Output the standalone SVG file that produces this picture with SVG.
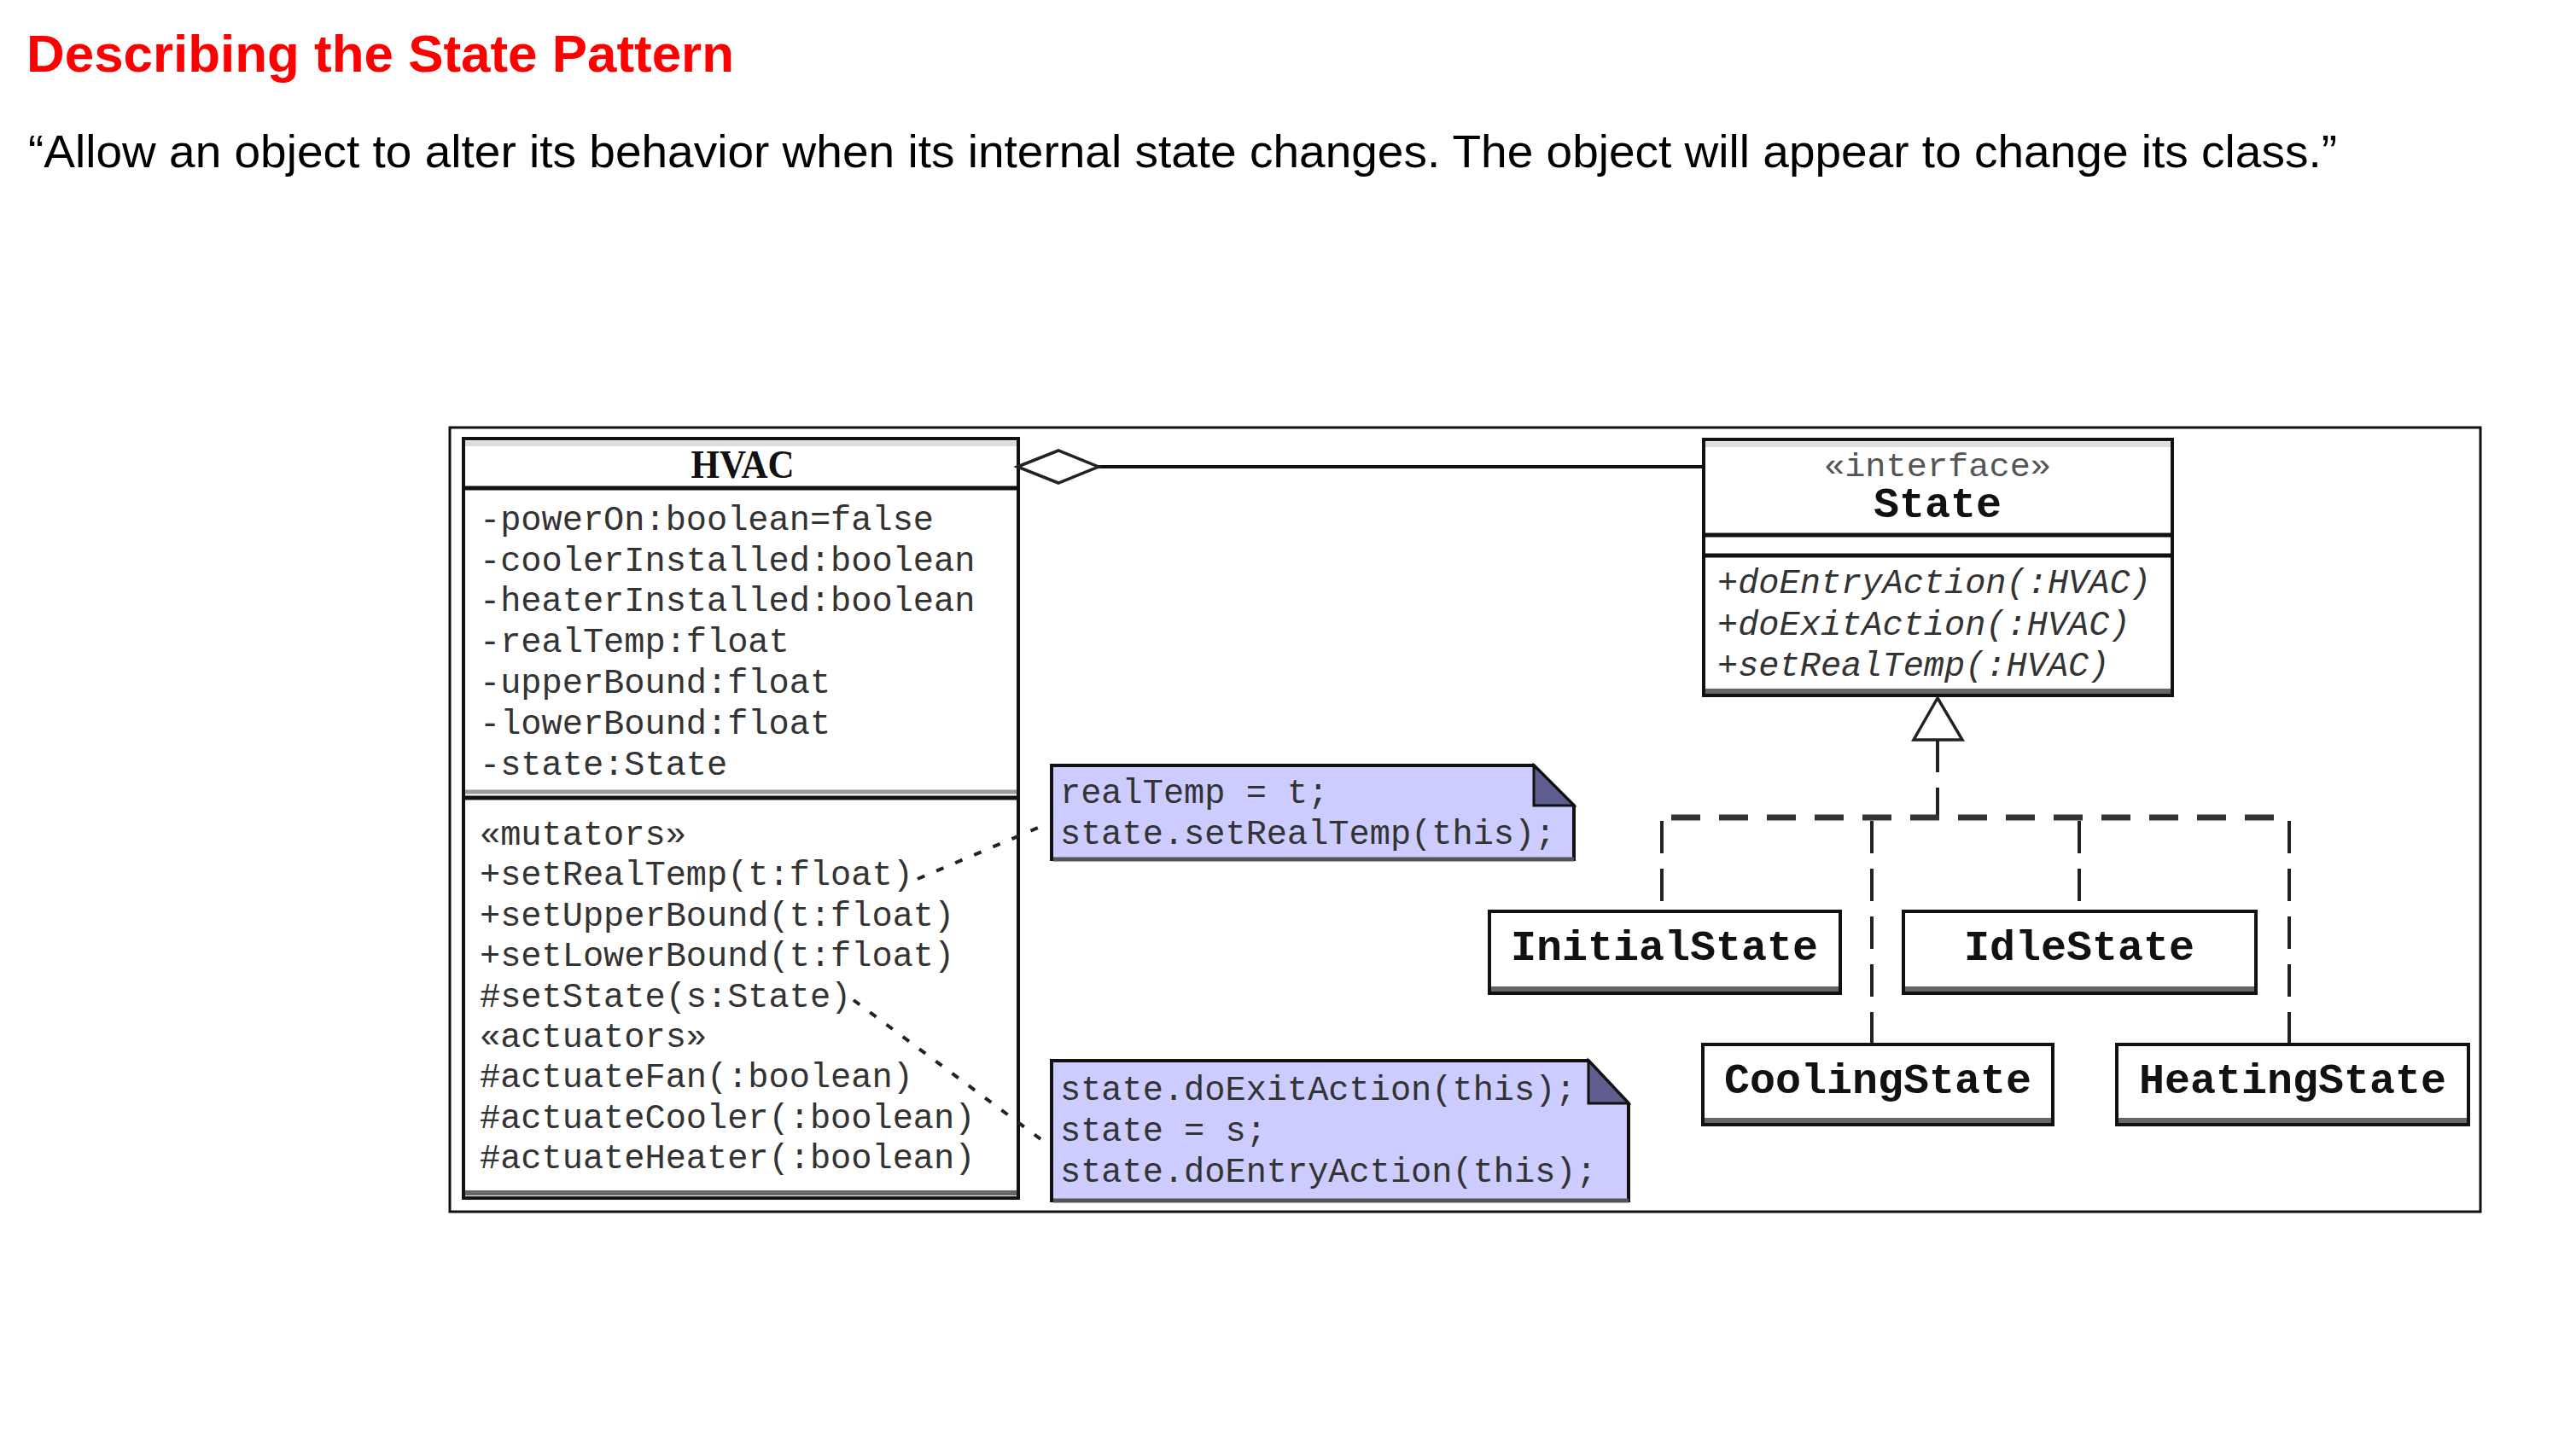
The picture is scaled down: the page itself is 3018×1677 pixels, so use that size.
<svg xmlns="http://www.w3.org/2000/svg" width="3018" height="1677" viewBox="0 0 3018 1677">
<style>
.title{font-family:"Liberation Sans",Arial,sans-serif;font-weight:bold;font-size:62px;fill:#ff0000}
.sub{font-family:"Liberation Sans",Arial,sans-serif;font-size:54px;fill:#000}
.mono{font-family:"Liberation Mono","DejaVu Sans Mono",monospace;font-size:40.3px;fill:#333}
.ital{font-style:italic}
.cls{font-family:"Liberation Mono","DejaVu Sans Mono",monospace;font-weight:bold;font-size:50px;fill:#111;text-anchor:middle}
.stereo{font-family:"Liberation Mono","DejaVu Sans Mono",monospace;font-size:38px;fill:#555;text-anchor:middle}
.serif{font-family:"Liberation Serif","Times New Roman",serif;font-weight:bold;font-size:46px;fill:#111;text-anchor:middle}
.box{fill:#fff;stroke:#111;stroke-width:4}
.band{stroke:#666;stroke-width:6}
.sep{stroke:#111;stroke-width:5}
.note{fill:#ccccff;stroke:#111;stroke-width:4;stroke-linejoin:miter}
.fold{fill:#5f5f8f;stroke:#111;stroke-width:3}
.real{fill:none;stroke:#222;stroke-width:4;stroke-dasharray:38 18}
.realh{fill:none;stroke:#333;stroke-width:7;stroke-dasharray:34 22}
.anchor{fill:none;stroke:#222;stroke-width:4;stroke-dasharray:9 15}
</style>

<text class="title" x="31" y="84" textLength="829" lengthAdjust="spacingAndGlyphs">Describing the State Pattern</text>
<text class="sub" x="33" y="196" textLength="2705" lengthAdjust="spacingAndGlyphs">“Allow an object to alter its behavior when its internal state changes. The object will appear to change its class.”</text>

<rect x="527" y="501" width="2379" height="919" fill="none" stroke="#111" stroke-width="3"/>

<g id="hvac">
  <rect class="box" x="543" y="514" width="650" height="890" stroke-width="5"/>
  <line x1="545" y1="520" x2="1191" y2="520" stroke="#ddd" stroke-width="6"/>
  <line class="sep" x1="543" y1="572" x2="1193" y2="572" stroke-width="7"/>
  <line x1="545" y1="928" x2="1191" y2="928" stroke="#999" stroke-width="5"/>
  <line class="sep" x1="543" y1="935" x2="1193" y2="935"/>
  <line class="band" x1="545" y1="1398" x2="1191" y2="1398"/>
  <text class="serif" x="870" y="560" textLength="121" lengthAdjust="spacingAndGlyphs">HVAC</text>
  <text class="mono" x="562" y="621">-powerOn:boolean=false</text>
  <text class="mono" x="562" y="669">-coolerInstalled:boolean</text>
  <text class="mono" x="562" y="716">-heaterInstalled:boolean</text>
  <text class="mono" x="562" y="764">-realTemp:float</text>
  <text class="mono" x="562" y="812">-upperBound:float</text>
  <text class="mono" x="562" y="860">-lowerBound:float</text>
  <text class="mono" x="562" y="908">-state:State</text>
  <text class="mono" x="562" y="990">«mutators»</text>
  <text class="mono" x="562" y="1037">+setRealTemp(t:float)</text>
  <text class="mono" x="562" y="1085">+setUpperBound(t:float)</text>
  <text class="mono" x="562" y="1132">+setLowerBound(t:float)</text>
  <text class="mono" x="562" y="1180">#setState(s:State)</text>
  <text class="mono" x="562" y="1227">«actuators»</text>
  <text class="mono" x="562" y="1274">#actuateFan(:boolean)</text>
  <text class="mono" x="562" y="1322">#actuateCooler(:boolean)</text>
  <text class="mono" x="562" y="1369">#actuateHeater(:boolean)</text>
</g>

<g id="state">
  <rect class="box" x="1996" y="515" width="549" height="300" stroke-width="5"/>
  <line x1="1998" y1="521" x2="2543" y2="521" stroke="#ddd" stroke-width="6"/>
  <line class="sep" x1="1996" y1="627" x2="2545" y2="627"/>
  <line class="sep" x1="1996" y1="651" x2="2545" y2="651" stroke-width="8"/>
  <line class="band" x1="1998" y1="810" x2="2543" y2="810"/>
  <text class="stereo" x="2270" y="558" textLength="266" lengthAdjust="spacingAndGlyphs">«interface»</text>
  <text class="cls" x="2270" y="606">State</text>
  <text class="mono ital" x="2012" y="695">+doEntryAction(:HVAC)</text>
  <text class="mono ital" x="2012" y="744">+doExitAction(:HVAC)</text>
  <text class="mono ital" x="2012" y="792">+setRealTemp(:HVAC)</text>
</g>

<g id="note1">
  <polygon class="note" points="1232,897 1797,897 1844,944 1844,1007 1232,1007"/>
  <polygon class="fold" points="1797,897 1797,944 1844,944"/>
  <line x1="1234" y1="1007" x2="1844" y2="1007" stroke="#555" stroke-width="5"/>
  <text class="mono" x="1242" y="941">realTemp = t;</text>
  <text class="mono" x="1242" y="989">state.setRealTemp(this);</text>
</g>

<g id="note2">
  <polygon class="note" points="1232,1243 1861,1243 1908,1293 1908,1407 1232,1407"/>
  <polygon class="fold" points="1861,1243 1861,1293 1908,1293"/>
  <line x1="1234" y1="1407" x2="1908" y2="1407" stroke="#555" stroke-width="5"/>
  <text class="mono" x="1242" y="1289">state.doExitAction(this);</text>
  <text class="mono" x="1242" y="1337">state = s;</text>
  <text class="mono" x="1242" y="1385">state.doEntryAction(this);</text>
</g>

<g id="initialState">
  <rect class="box" x="1745" y="1068" width="411" height="96"/>
  <line class="band" x1="1747" y1="1159" x2="2154" y2="1159"/>
  <text class="cls" x="1950" y="1125">InitialState</text>
</g>

<g id="idleState">
  <rect class="box" x="2230" y="1068" width="413" height="96"/>
  <line class="band" x1="2232" y1="1159" x2="2641" y2="1159"/>
  <text class="cls" x="2436" y="1125">IdleState</text>
</g>

<g id="coolingState">
  <rect class="box" x="1995" y="1224" width="410" height="94"/>
  <line class="band" x1="1997" y1="1313" x2="2403" y2="1313"/>
  <text class="cls" x="2200" y="1281">CoolingState</text>
</g>

<g id="heatingState">
  <rect class="box" x="2480" y="1224" width="412" height="94"/>
  <line class="band" x1="2482" y1="1313" x2="2890" y2="1313"/>
  <text class="cls" x="2686" y="1281">HeatingState</text>
</g>

<g id="connectors">
  <line x1="1287" y1="547" x2="1996" y2="547" stroke="#111" stroke-width="4"/>
  <polygon points="1192,547 1240,528 1287,547 1240,566" fill="#fff" stroke="#222" stroke-width="3.5"/>
  <path class="real" d="M2270,867 L2270,958"/>
  <path class="realh" d="M1950,958 L2682,958" stroke-dashoffset="48"/>
  <path class="real" d="M1947,962 L1947,1066"/>
  <path class="real" d="M2193,962 L2193,1222"/>
  <path class="real" d="M2436,962 L2436,1066"/>
  <path class="real" d="M2682,962 L2682,1222"/>
  <polygon points="2270,818 2242,867 2299,867" fill="#fff" stroke="#222" stroke-width="3.5"/>
  <path class="anchor" d="M1075,1030 L1228,965"/>
  <path class="anchor" d="M1000,1172 L1226,1340"/>
</g>
</svg>
